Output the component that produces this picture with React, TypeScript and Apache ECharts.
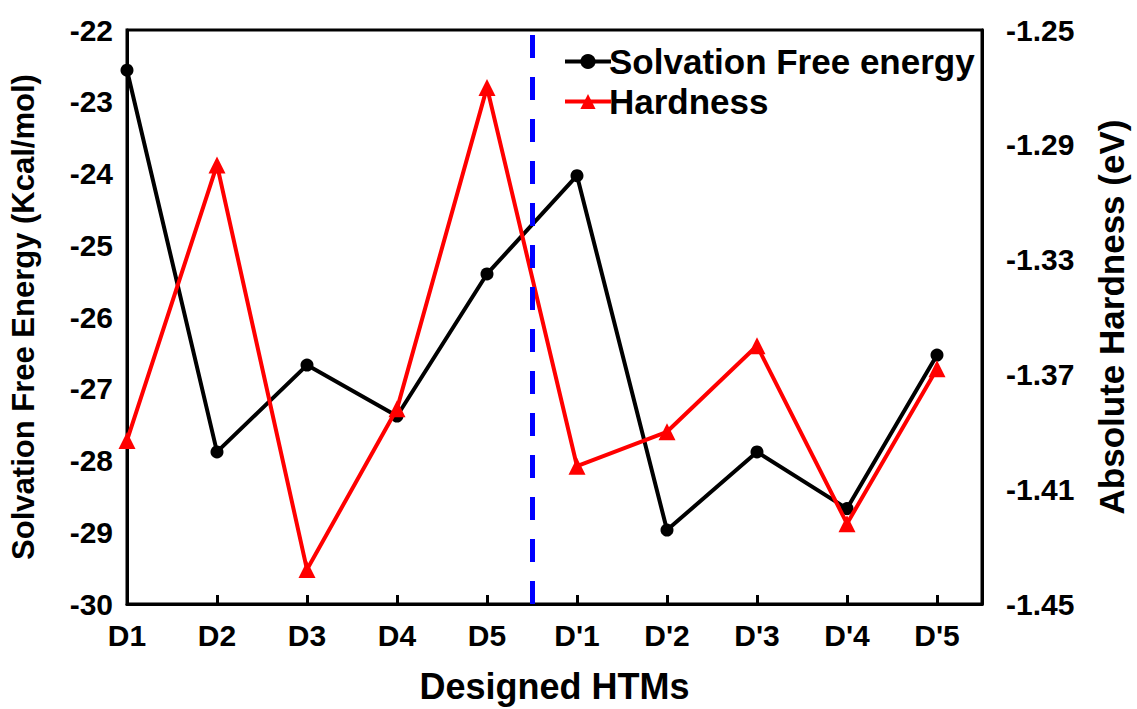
import React, { useEffect, useRef } from "react";
import * as echarts from "echarts";

const categories = ["D1", "D2", "D3", "D4", "D5", "D'1", "D'2", "D'3", "D'4", "D'5"];
const solvation = [-22.56, -27.88, -26.67, -27.38, -25.4, -24.03, -28.97, -27.88, -28.67, -26.53];
const hardness = [-1.393, -1.297, -1.438, -1.382, -1.27, -1.402, -1.39, -1.36, -1.422, -1.368];
const dividerX = 4.5;

const FONT = "'Liberation Sans', Arial, sans-serif";

export default function App() {
  const ref = useRef<HTMLDivElement>(null);
  useEffect(() => {
    document.body.style.margin = "0";
    const chart = echarts.init(ref.current!, null, { renderer: "svg" });
    const labelStyle = { color: "#000", fontFamily: FONT, fontWeight: "bold" as const, fontSize: 30 };
    chart.setOption({
      animation: false,
      backgroundColor: "#fff",
      grid: {
        left: 127, right: 152, top: 30, bottom: 105,
        show: true, borderColor: "#000", borderWidth: 3, backgroundColor: "transparent",
      },
      legend: {
        left: 558, top: 39, orient: "vertical", itemWidth: 46, itemHeight: 19, itemGap: 5,
        lineStyle: { width: 4 },
        textStyle: { color: "#000", fontFamily: FONT, fontWeight: "bold", fontSize: 35, padding: [0, 0, 0, -7] },
        data: ["Solvation Free energy", "Hardness"],
      },
      xAxis: {
        type: "value", min: 0, max: 9.5, interval: 1,
        axisLine: { show: true, lineStyle: { color: "#000", width: 3 } },
        axisTick: { show: true, inside: true, length: 9, lineStyle: { color: "#000", width: 3 } },
        splitLine: { show: false },
        axisLabel: {
          ...labelStyle, margin: 16, showMaxLabel: false,
          formatter: (v: number) => (Number.isInteger(v) && categories[v] !== undefined ? categories[v] : ""),
        },
        name: "Designed HTMs", nameLocation: "middle", nameGap: 64,
        nameTextStyle: { ...labelStyle, fontSize: 36 },
      },
      yAxis: [
        {
          type: "value", min: -30, max: -22, interval: 1, position: "left",
          axisLine: { show: true, lineStyle: { color: "#000", width: 3 } },
          axisTick: { show: false }, splitLine: { show: false },
          axisLabel: { ...labelStyle, margin: 14 },
          name: "Solvation Free Energy (Kcal/mol)", nameLocation: "middle", nameGap: 88, nameRotate: 90,
          nameTextStyle: { ...labelStyle, fontSize: 31 },
        },
        {
          type: "value", min: -1.45, max: -1.25, interval: 0.04, position: "right",
          axisLine: { show: true, lineStyle: { color: "#000", width: 3 } },
          axisTick: { show: false }, splitLine: { show: false },
          axisLabel: { ...labelStyle, margin: 24, formatter: (v: number) => v.toFixed(2) },
          name: "Absolute Hardness (eV)", nameLocation: "middle", nameGap: 112, nameRotate: 90,
          nameTextStyle: { ...labelStyle, fontSize: 35 },
        },
      ],
      series: [
        {
          name: "Solvation Free energy", type: "line", yAxisIndex: 0,
          data: solvation.map((v, i) => [i, v]),
          symbol: "circle", symbolSize: 13,
          lineStyle: { color: "#000", width: 4 }, itemStyle: { color: "#000" },
          z: 3,
          markLine: {
            silent: true, symbol: "none", label: { show: false },
            lineStyle: { color: "#0000ff", width: 5, type: [23, 19] },
            data: [{ xAxis: dividerX }],
          },
        },
        {
          name: "Hardness", type: "line", yAxisIndex: 1,
          data: hardness.map((v, i) => [i, v]),
          symbol: "triangle", symbolSize: 17,
          lineStyle: { color: "#ff0000", width: 4 }, itemStyle: { color: "#ff0000" },
          z: 4,
        },
      ],
    });
    return () => chart.dispose();
  }, []);
  return <div ref={ref} style={{ width: 1137, height: 709 }} />;
}
